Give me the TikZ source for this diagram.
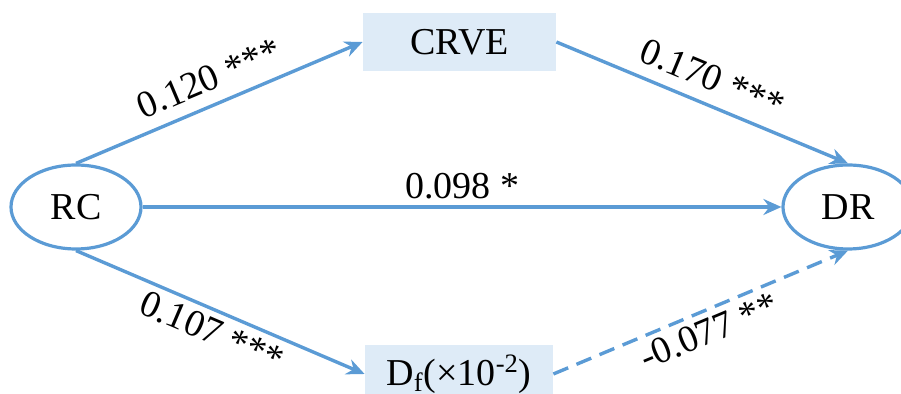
\documentclass[tikz,border=0pt]{standalone}
\usepackage{fontspec}
\setmainfont{Liberation Serif}
\usetikzlibrary{shapes.geometric,arrows.meta}
\definecolor{pathblue}{RGB}{91,155,213}
\definecolor{boxfill}{RGB}{222,235,247}
\tikzset{
  var/.style={ellipse, draw=pathblue, line width=1.6pt, minimum width=65pt, minimum height=42pt, inner sep=0pt, font=\fontsize{19}{23}\selectfont},
  med/.style={rectangle, fill=boxfill, draw=none, minimum height=29pt, inner sep=0pt, font=\fontsize{19}{23}\selectfont},
  link/.style={draw=pathblue, line width=1.7pt, -{Stealth[length=9pt,width=8pt,inset=3pt]}},
  coef/.style={font=\fontsize{19}{23}\selectfont, inner sep=2pt, text=black}
}
\begin{document}
\begin{tikzpicture}[x=0.5pt,y=-0.5pt]
  \useasboundingbox (0,0) rectangle (901,394);
  % variables
  \node[var] (rc) at (76,207) {RC};
  \node[var] (dr) at (848,207) {DR};
  % mediators
  \node[med, minimum width=96.5pt] (crve) at (459.5,42) {CRVE};
  \node[med, minimum width=94pt] (df) at (459,374) {D\textsubscript{f}(×10\textsuperscript{-2})};
  % paths
  \draw[link] (rc.north) -- node[coef, sloped, above, yshift=4pt] {0.120 ***} (crve.west);
  \draw[link] (crve.east) -- node[coef, sloped, above, yshift=4pt] {0.170 ***} (dr.north);
  \draw[link] (rc.east) -- node[coef, above, yshift=1pt] {0.098 *} (dr.west);
  \draw[link] (rc.south) -- node[coef, sloped, below, yshift=-1pt] {0.107 ***} (df.west);
  \draw[link, dash pattern=on 8pt off 4.5pt] (df.east) -- node[coef, sloped, below, yshift=-1pt] {-0.077 **} (dr.south);
\end{tikzpicture}
\end{document}
